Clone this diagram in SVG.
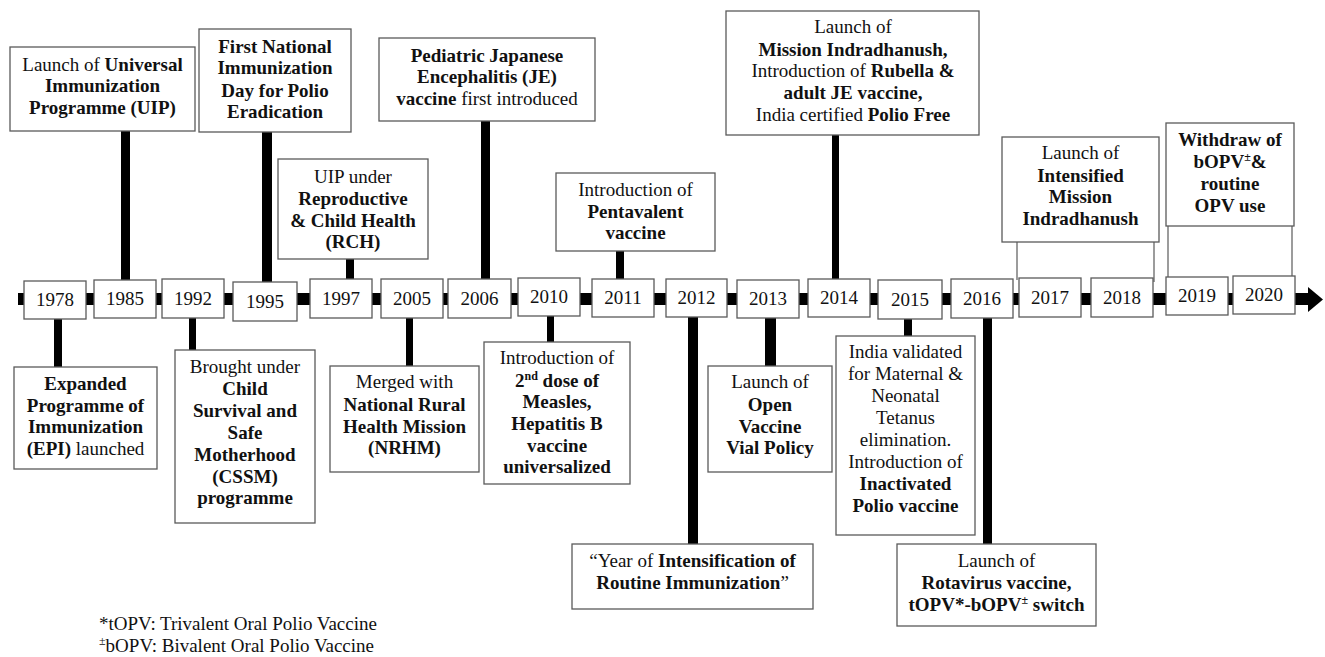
<svg xmlns="http://www.w3.org/2000/svg" width="1325" height="657" viewBox="0 0 1325 657">
<style>
rect.box{fill:#fff;stroke:#5a5a5a;stroke-width:1.3}
text{font-family:"Liberation Serif","Times New Roman",serif;font-size:19px;fill:#111;text-anchor:middle}
text.l{text-anchor:start}
.b{font-weight:bold}
.sup{font-size:12px;baseline-shift:super}
.c{fill:#000}
.thin{stroke:#5a5a5a;stroke-width:1.2;fill:none}
</style>
<rect width="1325" height="657" fill="#fff"/>
<g id="connectors">
<rect class="c" x="18" y="293" width="1292" height="12"/>
<polygon class="c" points="1308,287 1323,299.5 1308,312"/>
<rect class="c" x="121" y="131" width="9" height="150"/>
<rect class="c" x="262" y="132" width="10" height="150"/>
<rect class="c" x="346" y="259" width="8" height="20"/>
<rect class="c" x="481" y="121" width="9" height="158"/>
<rect class="c" x="616" y="251" width="8" height="28"/>
<rect class="c" x="832" y="135" width="7" height="144"/>
<line class="thin" x1="1017" y1="242" x2="1017" y2="280"/>
<line class="thin" x1="1154" y1="242" x2="1154" y2="282"/>
<line class="thin" x1="1168" y1="226" x2="1168" y2="277"/>
<line class="thin" x1="1292" y1="226" x2="1292" y2="276"/>
<rect class="c" x="54" y="319" width="8" height="48"/>
<rect class="c" x="189" y="318" width="7" height="32"/>
<rect class="c" x="406" y="318" width="7" height="48"/>
<rect class="c" x="547" y="316" width="7" height="26"/>
<rect class="c" x="688" y="317" width="10" height="227"/>
<rect class="c" x="765" y="318" width="11" height="48"/>
<rect class="c" x="904" y="319" width="8" height="17"/>
<rect class="c" x="983" y="318" width="9" height="226"/>
</g>
<g id="years">
<g id="y1978"><rect class="box" x="24" y="281" width="62" height="38"/><text x="55" y="306">1978</text></g>
<g id="y1985"><rect class="box" x="94" y="280" width="62" height="38"/><text x="125" y="305">1985</text></g>
<g id="y1992"><rect class="box" x="162" y="279" width="62" height="39"/><text x="193" y="304.5">1992</text></g>
<g id="y1995"><rect class="box" x="233" y="282" width="64" height="39"/><text x="265" y="307.5">1995</text></g>
<g id="y1997"><rect class="box" x="310" y="279" width="62" height="39"/><text x="341" y="304.5">1997</text></g>
<g id="y2005"><rect class="box" x="381" y="279" width="62" height="39"/><text x="412" y="304.5">2005</text></g>
<g id="y2006"><rect class="box" x="448" y="279" width="63" height="39"/><text x="479.5" y="304.5">2006</text></g>
<g id="y2010"><rect class="box" x="518" y="278" width="62" height="38"/><text x="549" y="303">2010</text></g>
<g id="y2011"><rect class="box" x="592" y="279" width="62" height="38"/><text x="623" y="304">2011</text></g>
<g id="y2012"><rect class="box" x="666" y="279" width="61" height="38"/><text x="696.5" y="304">2012</text></g>
<g id="y2013"><rect class="box" x="737" y="280" width="62" height="38"/><text x="768" y="305">2013</text></g>
<g id="y2014"><rect class="box" x="808" y="279" width="62" height="38"/><text x="839" y="304">2014</text></g>
<g id="y2015"><rect class="box" x="878" y="280" width="64" height="39"/><text x="910" y="305.5">2015</text></g>
<g id="y2016"><rect class="box" x="951" y="279" width="62" height="39"/><text x="982" y="304.5">2016</text></g>
<g id="y2017"><rect class="box" x="1019" y="278" width="62" height="39"/><text x="1050" y="303.5">2017</text></g>
<g id="y2018"><rect class="box" x="1091" y="278" width="62" height="39"/><text x="1122" y="303.5">2018</text></g>
<g id="y2019"><rect class="box" x="1166" y="277" width="62" height="38"/><text x="1197" y="302">2019</text></g>
<g id="y2020"><rect class="box" x="1233" y="276" width="62" height="38"/><text x="1264" y="301">2020</text></g>
</g>
<g id="uip"><rect class="box" x="10" y="47" width="185" height="84"/>
<text x="102.5" y="71">Launch of <tspan class="b">Universal</tspan></text>
<text x="102.5" y="92" class="b">Immunization</text>
<text x="102.5" y="114" class="b">Programme (UIP)</text></g>
<g id="nid"><rect class="box" x="199" y="29" width="152" height="103"/>
<text x="275" y="53" class="b">First National</text>
<text x="275" y="74" class="b">Immunization</text>
<text x="275" y="97" class="b">Day for Polio</text>
<text x="275" y="118" class="b">Eradication</text></g>
<g id="rch"><rect class="box" x="278" y="159" width="150" height="100"/>
<text x="353" y="183">UIP under</text>
<text x="353" y="205" class="b">Reproductive</text>
<text x="353" y="227" class="b">&amp; Child Health</text>
<text x="353" y="248" class="b">(RCH)</text></g>
<g id="je"><rect class="box" x="379" y="38" width="216" height="83"/>
<text x="487" y="62" class="b">Pediatric Japanese</text>
<text x="487" y="83" class="b">Encephalitis (JE)</text>
<text x="487" y="105"><tspan class="b">vaccine</tspan> first introduced</text></g>
<g id="penta"><rect class="box" x="556" y="173" width="159" height="78"/>
<text x="635.5" y="196">Introduction of</text>
<text x="635.5" y="218" class="b">Pentavalent</text>
<text x="635.5" y="239" class="b">vaccine</text></g>
<g id="mi"><rect class="box" x="726" y="11" width="253" height="124"/>
<text x="853" y="33">Launch of</text>
<text x="853" y="56" class="b">Mission Indradhanush,</text>
<text x="853" y="77">Introduction of <tspan class="b">Rubella &amp;</tspan></text>
<text x="853" y="99" class="b">adult JE vaccine,</text>
<text x="853" y="121">India certified <tspan class="b">Polio Free</tspan></text></g>
<g id="imi"><rect class="box" x="1002" y="137" width="157" height="105"/>
<text x="1080.5" y="159">Launch of</text>
<text x="1080.5" y="182" class="b">Intensified</text>
<text x="1080.5" y="203" class="b">Mission</text>
<text x="1080.5" y="225" class="b">Indradhanush</text></g>
<g id="withdraw"><rect class="box" x="1166" y="123" width="128" height="103"/>
<text x="1230" y="146" class="b">Withdraw of</text>
<text x="1230" y="168" class="b">bOPV<tspan class="sup">±</tspan>&amp;</text>
<text x="1230" y="190" class="b">routine</text>
<text x="1230" y="212" class="b">OPV use</text></g>
<g id="epi"><rect class="box" x="14" y="367" width="143" height="102"/>
<text x="85.5" y="390" class="b">Expanded</text>
<text x="85.5" y="412" class="b">Programme of</text>
<text x="85.5" y="433" class="b">Immunization</text>
<text x="85.5" y="455"><tspan class="b">(EPI)</tspan> launched</text></g>
<g id="cssm"><rect class="box" x="175" y="350" width="140" height="173"/>
<text x="245" y="373">Brought under</text>
<text x="245" y="395" class="b">Child</text>
<text x="245" y="417" class="b">Survival and</text>
<text x="245" y="439" class="b">Safe</text>
<text x="245" y="461" class="b">Motherhood</text>
<text x="245" y="483" class="b">(CSSM)</text>
<text x="245" y="504" class="b">programme</text></g>
<g id="nrhm"><rect class="box" x="330" y="366" width="149" height="106"/>
<text x="404.5" y="388">Merged with</text>
<text x="404.5" y="411" class="b">National Rural</text>
<text x="404.5" y="433" class="b">Health Mission</text>
<text x="404.5" y="454" class="b">(NRHM)</text></g>
<g id="measles"><rect class="box" x="484" y="342" width="146" height="142"/>
<text x="557" y="364">Introduction of</text>
<text x="557" y="387" class="b">2<tspan class="sup">nd</tspan> dose of</text>
<text x="557" y="408" class="b">Measles,</text>
<text x="557" y="430" class="b">Hepatitis B</text>
<text x="557" y="452" class="b">vaccine</text>
<text x="557" y="473" class="b">universalized</text></g>
<g id="yir"><rect class="box" x="572" y="544" width="241" height="65"/>
<text x="692.5" y="567">“Year of <tspan class="b">Intensification of</tspan></text>
<text x="692.5" y="589"><tspan class="b">Routine Immunization</tspan>”</text></g>
<g id="ovvp"><rect class="box" x="708" y="366" width="124" height="106"/>
<text x="770" y="388">Launch of</text>
<text x="770" y="411" class="b">Open</text>
<text x="770" y="433" class="b">Vaccine</text>
<text x="770" y="454" class="b">Vial Policy</text></g>
<g id="mnt"><rect class="box" x="836" y="336" width="139" height="199"/>
<text x="905.5" y="358">India validated</text>
<text x="905.5" y="380">for Maternal &amp;</text>
<text x="905.5" y="402">Neonatal</text>
<text x="905.5" y="424">Tetanus</text>
<text x="905.5" y="446">elimination.</text>
<text x="905.5" y="468">Introduction of</text>
<text x="905.5" y="490" class="b">Inactivated</text>
<text x="905.5" y="512" class="b">Polio vaccine</text></g>
<g id="rota"><rect class="box" x="897" y="544" width="199" height="82"/>
<text x="996.5" y="567">Launch of</text>
<text x="996.5" y="589" class="b">Rotavirus vaccine,</text>
<text x="996.5" y="611" class="b">tOPV*-bOPV<tspan class="sup">±</tspan> switch</text></g>
<g id="footnotes">
<text class="l" x="99" y="630">*tOPV: Trivalent Oral Polio Vaccine</text>
<text class="l" x="99" y="652"><tspan class="sup">±</tspan>bOPV: Bivalent Oral Polio Vaccine</text>
</g>
</svg>
